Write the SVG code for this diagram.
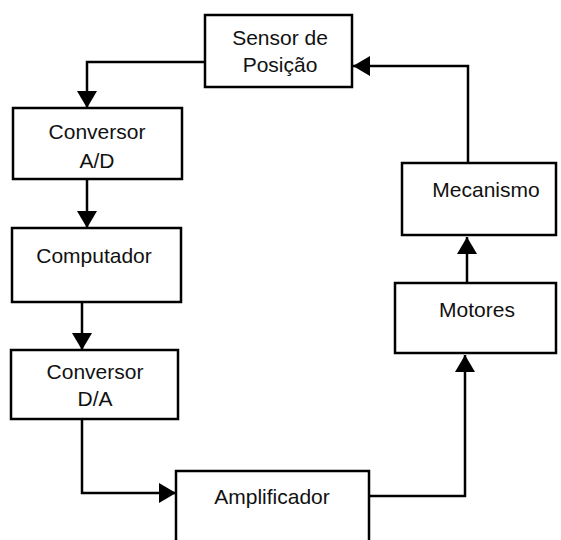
<svg xmlns="http://www.w3.org/2000/svg" width="561" height="540" viewBox="0 0 561 540">
<style>
.box{fill:#fff;stroke:#000;stroke-width:2.5}
.lbl{font-family:"Liberation Sans",Arial,sans-serif;font-size:21px;fill:#111;text-anchor:middle}
.con{fill:none;stroke:#000;stroke-width:2.5;marker-end:url(#ah)}
</style>
<defs>
<marker id="ah" markerUnits="userSpaceOnUse" markerWidth="18" markerHeight="20" refX="17" refY="10" orient="auto" viewBox="0 0 18 20">
<path d="M0,0 L17,10 L0,20 Z" fill="#000"/>
</marker>
</defs>
<rect width="561" height="540" fill="#fff"/>
<g id="connectors">
<path class="con" d="M205,62 H87 V108"/>
<path class="con" d="M87,179 V228"/>
<path class="con" d="M82,302 V350"/>
<path class="con" d="M82,419 V493 H176"/>
<path class="con" d="M369,496 H465 V355"/>
<path class="con" d="M467,283 V237"/>
<path class="con" d="M468,163 V66 H353"/>
</g>
<g id="sensor">
<rect class="box" x="205" y="15" width="147" height="72"/>
<text class="lbl" x="280" y="45">Sensor de</text>
<text class="lbl" x="280" y="72">Posição</text>
</g>
<g id="conversor-ad">
<rect class="box" x="13" y="108" width="169" height="71"/>
<text class="lbl" x="97" y="139">Conversor</text>
<text class="lbl" x="97" y="168">A/D</text>
</g>
<g id="computador">
<rect class="box" x="12" y="228" width="169" height="74"/>
<text class="lbl" x="94" y="263">Computador</text>
</g>
<g id="conversor-da">
<rect class="box" x="11" y="350" width="167" height="69"/>
<text class="lbl" x="95" y="379">Conversor</text>
<text class="lbl" x="95" y="406">D/A</text>
</g>
<g id="amplificador">
<rect class="box" x="176" y="471" width="193" height="80"/>
<text class="lbl" x="272" y="504">Amplificador</text>
</g>
<g id="motores">
<rect class="box" x="395" y="283" width="161" height="70"/>
<text class="lbl" x="477" y="317">Motores</text>
</g>
<g id="mecanismo">
<rect class="box" x="402" y="163" width="154" height="72"/>
<text class="lbl" x="486" y="197">Mecanismo</text>
</g>
</svg>
